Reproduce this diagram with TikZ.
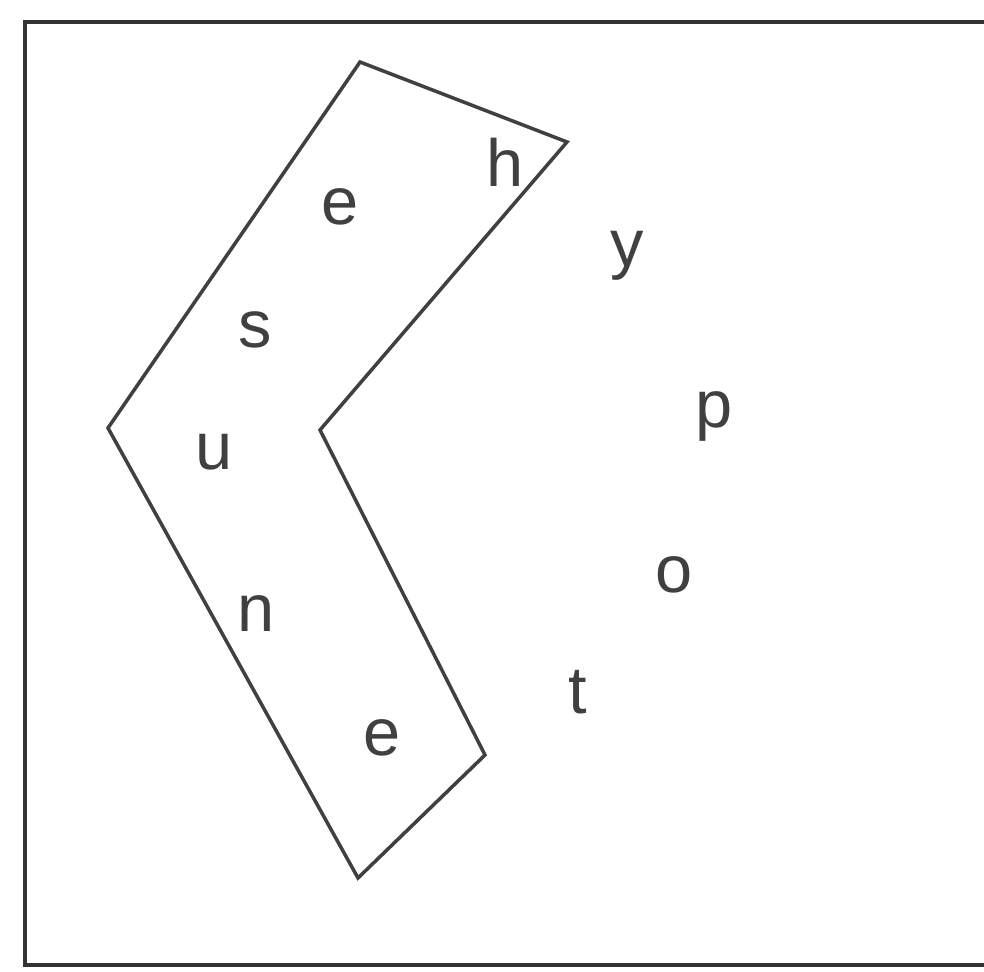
\documentclass[tikz,border=0pt]{standalone}
\usepackage{fontspec}
\setmainfont{Liberation Sans}
\usetikzlibrary{positioning}
\tikzset{
  frm/.style   ={draw=black!80,line width=2pt},
  chev/.style  ={draw=black!75,line width=2pt,line join=miter},
  ltr/.style   ={font=\fontsize{38}{40}\selectfont,text=black!75,inner sep=0pt},
}

\begin{document}
\begin{tikzpicture}[x=0.02cm, y=-0.02cm]

\useasboundingbox (0,0) rectangle (984,972);

%% ---------------- frame ----------------
%% right side runs off the page
\begin{scope}
  \clip (0,0) rectangle (984,972);
  \draw[frm] (25,22) rectangle (1020,965);
\end{scope}

%% ---------------- chevron ----------------
\coordinate (c1) at (360,62);
\coordinate (c2) at (567,142);
\coordinate (c3) at (320,430);
\coordinate (c4) at (485,755);
\coordinate (c5) at (358,878);
\coordinate (c6) at (108,428);
\draw[chev] (c1) -- (c2) -- (c3) -- (c4) -- (c5) -- (c6) -- cycle;

%% ---------------- letters ----------------
%% inside the chevron
\node[ltr] (h)  at (505,162) {h};
\node[ltr] (e1) at (340,207) {e};
\node[ltr] (s)  at (255,330) {s};
\node[ltr] (u)  at (214,452) {u};
\node[ltr] (n)  at (256,614) {n};
\node[ltr] (e2) at (382,738) {e};
%% outside
\node[ltr] (y)  at (627,256) {y};
\node[ltr] (p)  at (714,416) {p};
\node[ltr] (o)  at (674,575) {o};
\node[ltr] (t)  at (578,692) {t};

\end{tikzpicture}
\end{document}
